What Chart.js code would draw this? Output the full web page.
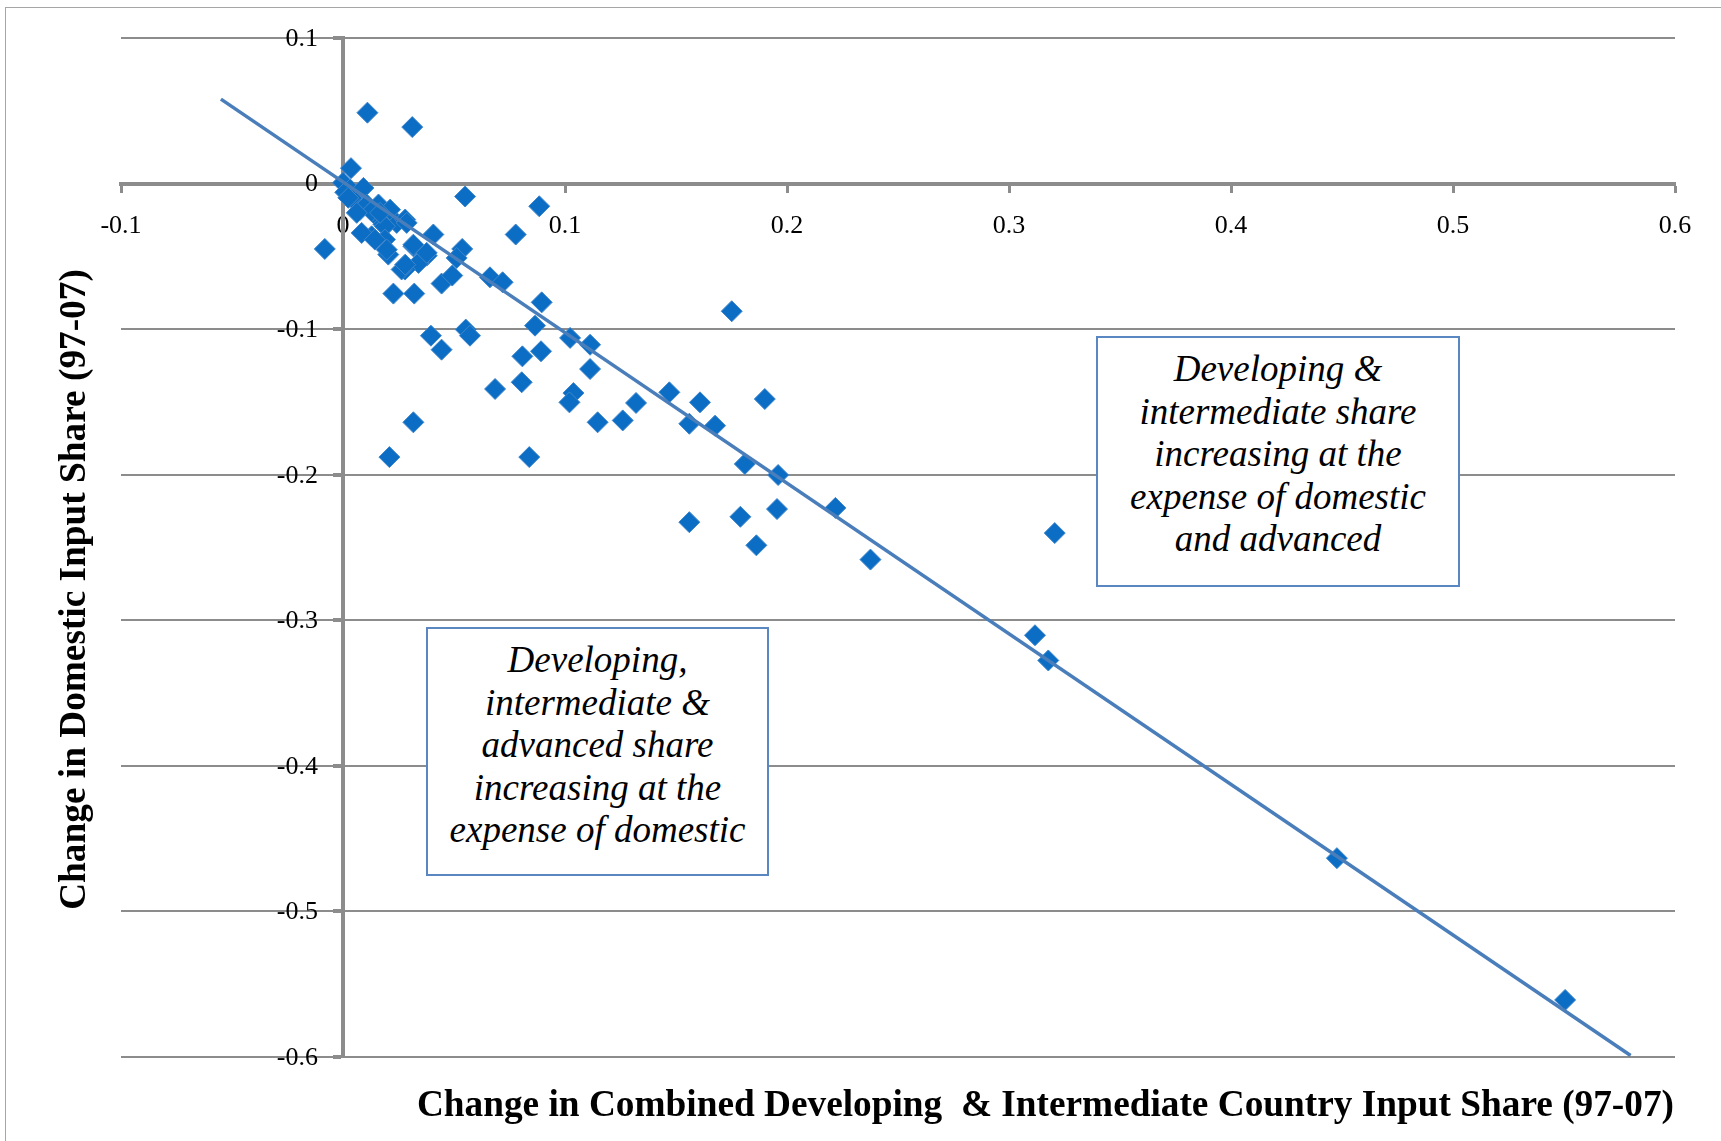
<!DOCTYPE html>
<html>
<head>
<meta charset="utf-8">
<script src="https://cdn.jsdelivr.net/npm/chart.js@4"></script>
<style>
  html, body { margin: 0; padding: 0; background: #fff; overflow: hidden; }
  #wrap { position: relative; width: 1721px; height: 1141px; }
  #frame { position: absolute; left: 5px; top: 7px; width: 1800px; height: 1300px; border: 1px solid #a6a6a6; }
  canvas { position: absolute; left: 0; top: 0; }
  .note {
    position: absolute; box-sizing: border-box; background: #fff;
    border: 2px solid #5a86c2; text-align: center;
    font-family: "Liberation Serif", serif; font-style: italic; font-size: 37px;
    line-height: 42.5px; color: #000;
  }
</style>
</head>
<body>
<div id="wrap">
  <div id="frame"></div>
  <canvas id="myChart" width="1721" height="1141"></canvas>
  <div class="note" style="left:1096px; top:336px; width:364px; height:251px; padding-top:10px;">
    Developing &amp;<br>intermediate share<br>increasing at the<br>expense of domestic<br>and advanced
  </div>
  <div class="note" style="left:426px; top:627px; width:343px; height:249px; padding-top:10px;">
    Developing,<br>intermediate &amp;<br>advanced share<br>increasing at the<br>expense of domestic
  </div>
</div>
<script>
// change in combined developing & intermediate input share (x) vs change in domestic share (y)
const xValues = [
  0.011, 0.0312, 0.0036, -0.0082, 0.055, 0.0884, 0.0778, 0.0407, 0.0537, 0.0512,
  0.0377, 0.0317, 0.034, 0.0279, 0.0264, 0.0227, 0.0321, 0.0444, 0.0492, 0.0662,
  0.0719, 0.0895, 0.0865, 0.0396, 0.0444, 0.0553, 0.0572, 0.0808, 0.0892, 0.1023,
  0.1113, 0.1113, 0.0805, 0.0685, 0.1038, 0.102, 0.1147, 0.126, 0.132, 0.147,
  0.1608, 0.156, 0.1676, 0.0317, 0.0209, 0.0839, 0.1751, 0.181, 0.19, 0.196,
  0.179, 0.1955, 0.156, 0.1862, 0.2218, 0.2376, 0.3206, 0.3117, 0.3177, 0.4477,
  0.5505,
  0.0, 0.0032, 0.0092, 0.0039, 0.0077, 0.0107, 0.016, 0.0144, 0.0197, 0.0182,
  0.0242, 0.028, 0.0129, 0.0212, 0.0189, 0.0129, 0.0189, 0.0287, 0.0317, 0.0377,
  0.028, 0.0204, 0.001, 0.0024, 0.0062, 0.0084, 0.0144, 0.0197, 0.0167
];
const yValues = [
  0.0487, 0.0388, 0.0106, -0.0449, -0.0089, -0.0156, -0.035, -0.035, -0.0449, -0.0511,
  -0.0495, -0.0431, -0.0545, -0.0591, -0.059, -0.0756, -0.0756, -0.0687, -0.0632, -0.0644,
  -0.0678, -0.0816, -0.0976, -0.1045, -0.1141, -0.1003, -0.1045, -0.1187, -0.1152, -0.106,
  -0.1107, -0.1274, -0.1365, -0.1411, -0.1439, -0.1503, -0.164, -0.1627, -0.1507, -0.1434,
  -0.1503, -0.165, -0.1663, -0.164, -0.1879, -0.1879, -0.0877, -0.1926, -0.148, -0.2002,
  -0.2289, -0.2236, -0.2326, -0.2485, -0.2228, -0.2583, -0.2401, -0.3103, -0.3276, -0.4634,
  -0.5608,
  0.0005, -0.004, -0.003, -0.0098, -0.018, -0.0144, -0.0144, -0.0213, -0.0201, -0.028,
  -0.027, -0.0247, -0.019, -0.0179, -0.0293, -0.0362, -0.0385, -0.027, -0.042, -0.0476,
  -0.0557, -0.0488, -0.006, -0.0098, -0.0201, -0.0339, -0.0385, -0.0454, -0.0201
];

// linear trend line end points
const trendX = [-0.055, 0.58];
const trendY = [0.058, -0.599];

const xTickValues = [-0.1, 0, 0.1, 0.2, 0.3, 0.4, 0.5, 0.6];
const xTickLabels = ['-0.1', '0', '0.1', '0.2', '0.3', '0.4', '0.5', '0.6'];
const yTickValues = [0.1, 0, -0.1, -0.2, -0.3, -0.4, -0.5, -0.6];
const yTickLabels = ['0.1', '0', '-0.1', '-0.2', '-0.3', '-0.4', '-0.5', '-0.6'];

const xTitle = 'Change in Combined Developing  & Intermediate Country Input Share (97-07)';
const yTitle = 'Change in Domestic Input Share (97-07)';

function labelFor(values, labels, v) {
  const i = values.findIndex((t) => Math.abs(t - v) < 1e-6);
  return i >= 0 ? labels[i] : '';
}

const points = xValues.map((x, i) => ({ x: x, y: yValues[i] }));
const trend = trendX.map((x, i) => ({ x: x, y: trendY[i] }));

const gridGrey = '#8c8c8c';
const serif = '"Liberation Serif", "Times New Roman", serif';

// y tick labels and axis titles drawn here, the axes sit at zero
const textPlugin = {
  id: 'axisText',
  afterDraw(chart) {
    const { ctx, chartArea, scales } = chart;
    const x0 = scales.x.getPixelForValue(0);
    ctx.save();
    ctx.fillStyle = '#000';
    ctx.font = '26px ' + serif;
    ctx.textAlign = 'right';
    ctx.textBaseline = 'middle';
    yTickValues.forEach((v) => {
      ctx.fillText(labelFor(yTickValues, yTickLabels, v), x0 - 25, scales.y.getPixelForValue(v) + 1);
    });

    ctx.font = 'bold 37.3px ' + serif;
    ctx.textBaseline = 'alphabetic';
    ctx.fillText(xTitle, chartArea.right - 1, 1116);

    ctx.translate(85, (chartArea.top + chartArea.bottom) / 2 + 42);
    ctx.rotate(-Math.PI / 2);
    ctx.textAlign = 'center';
    ctx.fillText(yTitle, 0, 0);
    ctx.restore();
  }
};

const ctx = document.getElementById('myChart');
new Chart(ctx, {
  type: 'scatter',
  data: {
    datasets: [
      {
        type: 'line',
        label: 'trend',
        data: trend,
        borderColor: '#4a7ebb',
        borderWidth: 3.5,
        pointRadius: 0,
        fill: false,
        order: 0
      },
      {
        label: 'industries',
        data: points,
        pointStyle: 'rectRot',
        pointRadius: 10.5,
        backgroundColor: '#0b6ec4',
        borderColor: '#3f86cc',
        borderWidth: 1,
        order: 1
      }
    ]
  },
  options: {
    responsive: false,
    animation: false,
    devicePixelRatio: 1,
    layout: { padding: { left: 121, top: 38, right: 46, bottom: 84 } },
    plugins: {
      legend: { display: false },
      tooltip: { enabled: false }
    },
    scales: {
      x: {
        type: 'linear',
        min: -0.1,
        max: 0.6,
        position: { y: 0 },
        afterBuildTicks: (scale) => { scale.ticks = xTickValues.map((v) => ({ value: v })); },
        ticks: {
          color: '#000',
          font: { family: serif, size: 26 },
          padding: 20,
          maxRotation: 0,
          callback: (v) => labelFor(xTickValues, xTickLabels, v)
        },
        grid: {
          display: true,
          drawOnChartArea: false,
          drawTicks: true,
          tickLength: 7,
          tickWidth: 3,
          tickColor: gridGrey
        },
        border: { display: true, color: gridGrey, width: 4 }
      },
      y: {
        type: 'linear',
        min: -0.6,
        max: 0.1,
        position: { x: 0 },
        afterBuildTicks: (scale) => { scale.ticks = yTickValues.slice().reverse().map((v) => ({ value: v })); },
        ticks: { display: false },
        grid: {
          color: gridGrey,
          lineWidth: 2,
          drawTicks: true,
          tickLength: 8,
          tickWidth: 4,
          tickColor: gridGrey
        },
        border: { display: true, color: gridGrey, width: 4 }
      }
    }
  },
  plugins: [textPlugin]
});
</script>
</body>
</html>
